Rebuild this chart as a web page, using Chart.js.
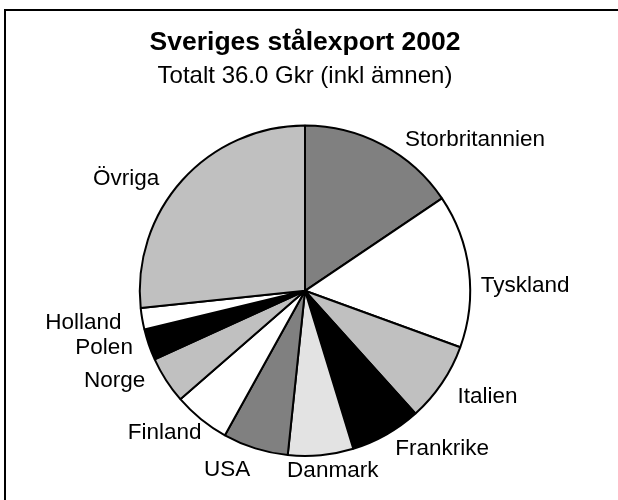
<!DOCTYPE html>
<html>
<head>
<meta charset="utf-8">
<script src="https://cdn.jsdelivr.net/npm/chart.js@4"></script>
<style>
  html, body { margin: 0; padding: 0; background: #fff; overflow: hidden; }
  #wrap { width: 618px; height: 500px; }
</style>
</head>
<body>
<div id="wrap"><canvas id="grafico" width="618" height="500"></canvas></div>
<script>
// Dados (Gkr)
const paises = ["Storbritannien", "Tyskland", "Italien", "Frankrike", "Danmark", "USA",
  "Finland", "Norge", "Polen", "Holland", "Övriga"];
const exportGkr = [5.6, 5.4, 2.8, 2.5, 2.3, 2.3, 2.0, 1.65, 1.1, 0.75, 9.6];
const titulo = "Sveriges stålexport 2002";
const subtitulo = "Totalt 36.0 Gkr (inkl ämnen)";

const cores = ["#808080", "#ffffff", "#c0c0c0", "#000000", "#e3e3e3", "#808080",
  "#ffffff", "#c0c0c0", "#000000", "#ffffff", "#c0c0c0"];
// ajuste fino dos rótulos (px) em relação ao ponto médio do arco
const ajusteRotulo = [[13, 13], [-8, 18], [-1, 2], [-1, -3], [10, -4], [1, 2],
  [13, -2], [-4, -10], [3, -3], [-1, 1], [-8, 12]];

const fonte = "'Liberation Sans', Arial, sans-serif";

// moldura + fundo
const moldura = {
  id: "moldura",
  beforeDraw(chart) {
    const ctx = chart.ctx;
    ctx.save();
    ctx.fillStyle = "#fff";
    ctx.fillRect(0, 0, chart.width, chart.height);
    ctx.strokeStyle = "#000";
    ctx.lineWidth = 2;
    ctx.strokeRect(5, 10, 700, 600);
    ctx.restore();
  }
};

// rótulos fora da pizza
const rotulos = {
  id: "rotulos",
  afterDatasetsDraw(chart) {
    const ctx = chart.ctx;
    const meta = chart.getDatasetMeta(0);
    ctx.save();
    ctx.font = "22.5px " + fonte;
    ctx.fillStyle = "#000";
    ctx.textBaseline = "middle";
    meta.data.forEach((arc, i) => {
      const p = arc.getProps(["x", "y", "startAngle", "endAngle", "outerRadius"], true);
      const meio = (p.startAngle + p.endAngle) / 2;
      const r = p.outerRadius + 20;
      const c = Math.cos(meio);
      const x = p.x + c * r + ajusteRotulo[i][0];
      const y = p.y + Math.sin(meio) * r + ajusteRotulo[i][1];
      ctx.textAlign = Math.abs(c) < 0.2 ? "center" : (c > 0 ? "left" : "right");
      ctx.fillText(paises[i], x, y);
    });
    ctx.restore();
  }
};

new Chart(document.getElementById("grafico"), {
  type: "pie",
  data: {
    labels: paises,
    datasets: [{
      data: exportGkr,
      backgroundColor: cores,
      borderColor: "#000",
      borderWidth: 2
    }]
  },
  options: {
    responsive: false,
    animation: false,
    devicePixelRatio: 1,
    layout: { padding: { top: 0, bottom: 43, left: 0, right: 8 } },
    plugins: {
      legend: { display: false },
      tooltip: { enabled: false },
      title: {
        display: true,
        text: titulo,
        color: "#000",
        font: { family: fonte, size: 26.5, weight: "bold" },
        padding: { top: 27, bottom: 0 }
      },
      subtitle: {
        display: true,
        text: subtitulo,
        color: "#000",
        font: { family: fonte, size: 24, weight: "normal" },
        padding: { top: 3, bottom: 34 }
      }
    }
  },
  plugins: [moldura, rotulos]
});
</script>
</body>
</html>
